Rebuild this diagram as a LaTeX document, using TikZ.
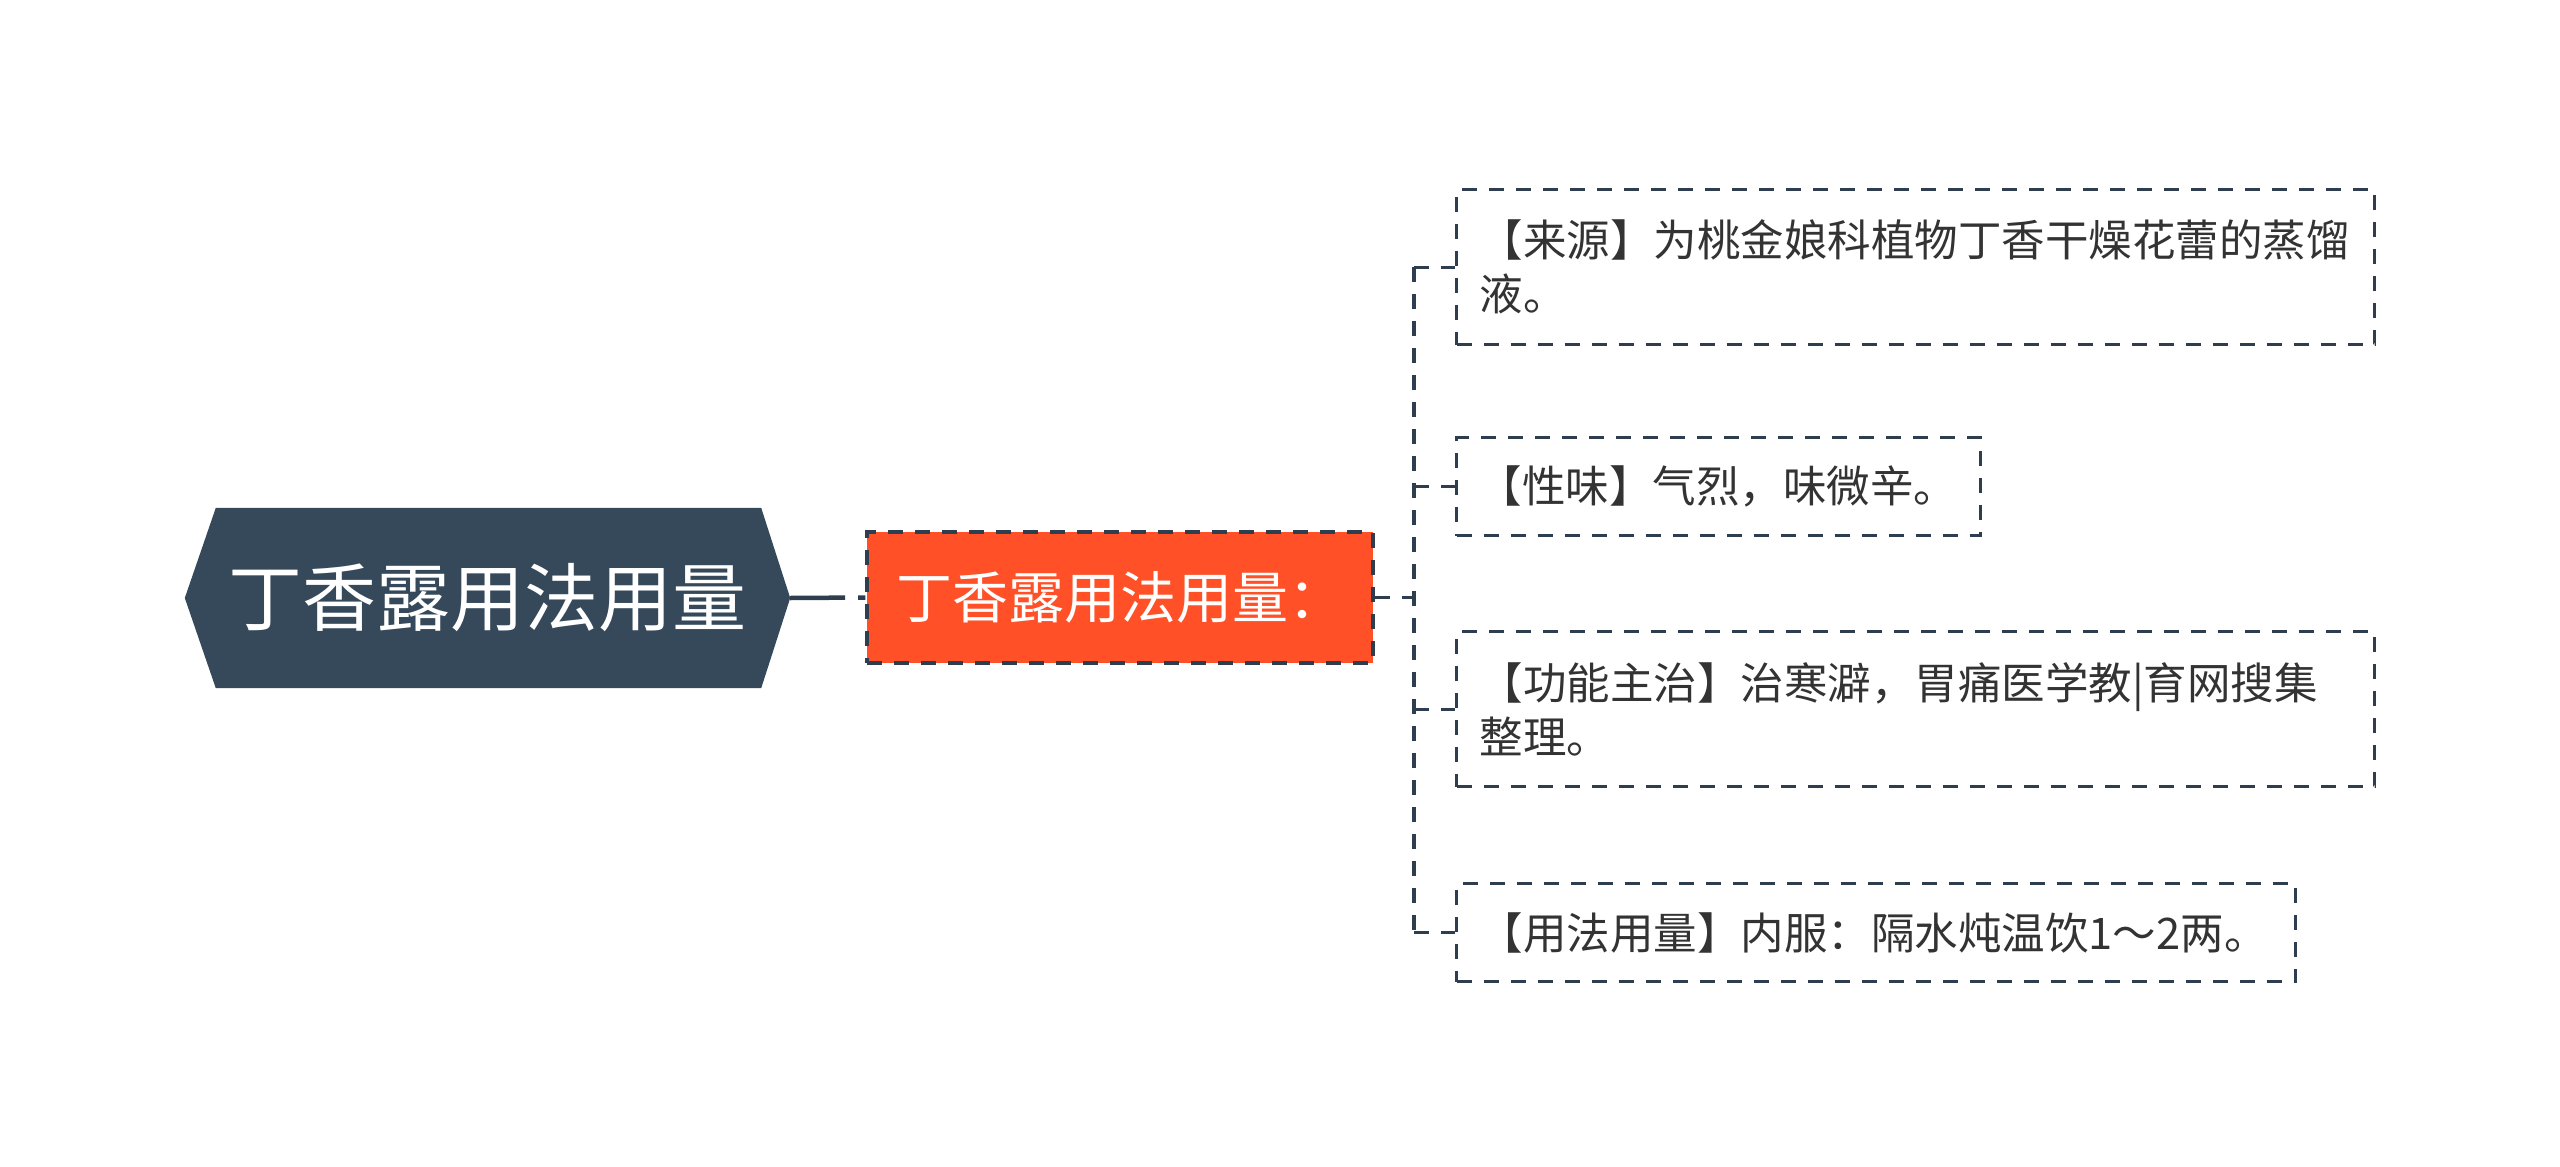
\documentclass[tikz,border=0pt]{standalone}
\usepackage{fontspec}
\newfontfamily\cjk{Noto Sans CJK SC}
\usetikzlibrary{backgrounds}
\definecolor{rootC}{HTML}{35495B}
\definecolor{subC}{HTML}{FF5027}
\definecolor{lineC}{HTML}{2E3E4E}
\definecolor{textC}{HTML}{333333}
\begin{document}
\begin{tikzpicture}[x=1pt,y=-1pt,
  dashline/.style={draw=lineC, line width=3.4pt, dash pattern=on 15pt off 12pt},
  rootbox/.style={minimum width=605pt, minimum height=180pt, inner sep=0pt, text=white,
     font=\cjk\fontsize{74pt}{80pt}\selectfont},
  subbox/.style={dashline, fill=subC, minimum width=506pt, minimum height=131pt, inner sep=0pt,
     text=white, font=\cjk\fontsize{56pt}{62pt}\selectfont},
  leaf/.style={dashline, anchor=north west, align=left, inner xsep=23pt, inner ysep=0pt,
     text=textC, font=\cjk\fontsize{43.5pt}{54pt}\selectfont},
  rootlink/.style={draw=lineC, line width=4.5pt, dash pattern=on 55pt off 13pt},
  treelink/.style={dashline}]
\useasboundingbox (0,0) rectangle (2560,1167);

\node[rootbox] (root) at (487.5,598) {丁香露用法用量};
\begin{scope}[on background layer]
  \fill[rootC] (root.west) -- ([xshift=31pt]root.north west) -- ([xshift=-29pt]root.north east)
    -- (root.east) -- ([xshift=-29pt]root.south east) -- ([xshift=31pt]root.south west) -- cycle;
\end{scope}

\node[subbox] (sub) at (1120,597.5) {丁香露用法用量：};

\node[leaf, text width=872pt, minimum height=155pt] (l1) at (1455,188)
  {【来源】为桃金娘科植物丁香干燥花蕾的蒸馏\\液。};
\node[leaf, text width=480pt, minimum height=98pt, inner xsep=22pt] (l2) at (1455,436)
  {【性味】气烈，味微辛。};
\node[leaf, text width=872pt, minimum height=155pt] (l3) at (1455,630)
  {【功能主治】治寒澼，胃痛医学教|育网搜集\\整理。};
\node[leaf, text width=793pt, minimum height=98pt] (l4) at (1455,882)
  {【用法用量】内服：隔水炖温饮1～2两。};

\draw[rootlink] (root.east) -- (sub.west);
\coordinate (j) at (1414,597.5);
\draw[treelink] (sub.east) -- (j);
\draw[treelink] (j |- l1.west) -- (j |- l4.west);
\draw[treelink] (j |- l1.west) -- (l1.west);
\draw[treelink] (j |- l2.west) -- (l2.west);
\draw[treelink] (j |- l3.west) -- (l3.west);
\draw[treelink] (j |- l4.west) -- (l4.west);
\end{tikzpicture}
\end{document}
